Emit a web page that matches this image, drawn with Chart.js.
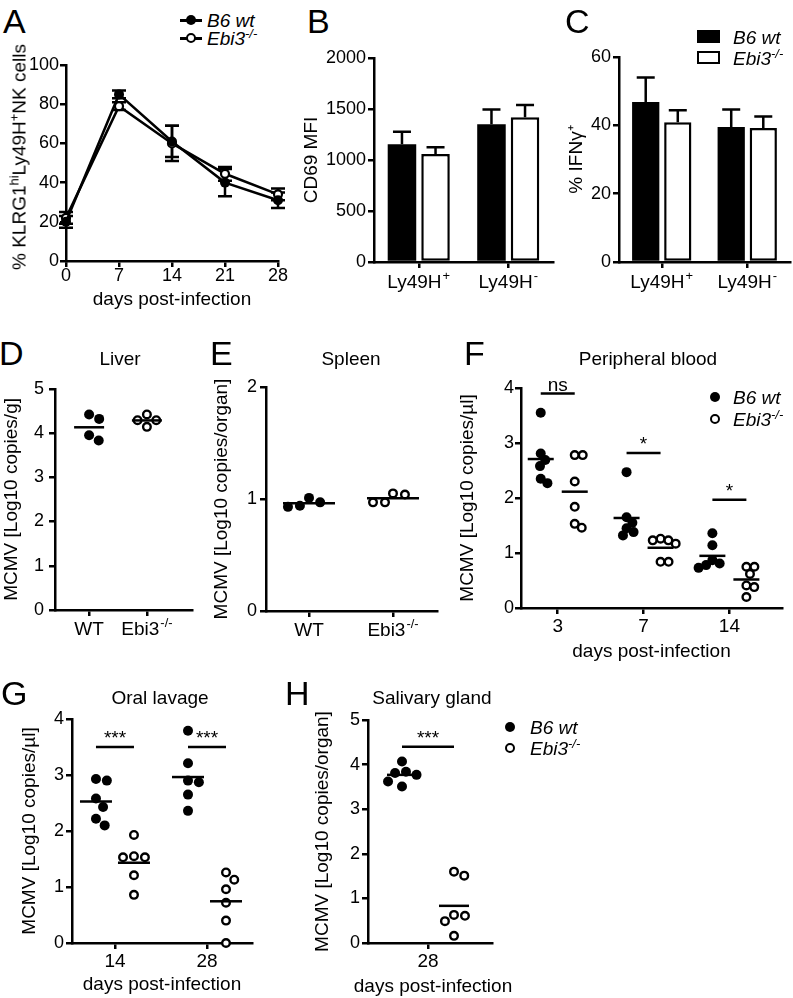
<!DOCTYPE html>
<html>
<head>
<meta charset="utf-8">
<script src="https://cdn.jsdelivr.net/npm/chart.js@4.4.1/dist/chart.umd.min.js"></script>
<style>
  body { margin: 0; background: #fff; }
  #fig { position: relative; width: 793px; height: 998px; overflow: hidden; font-family: 'Liberation Sans', Arial, sans-serif; color: #000; background: #fff; }
  #fig canvas { position: absolute; }
  .t { position: absolute; line-height: 1; white-space: nowrap; }
  .it { font-style: italic; }
  .t sup { font-size: 0.68em; vertical-align: 0; position: relative; top: -0.55em; }
  .mk { position: absolute; box-sizing: border-box; }
</style>
</head>
<body>
<div id="fig"></div>
<script>
// ---- A: KLRG1hi Ly49H+ NK cells over time (mean, sem)
const daysA = [0, 7, 14, 21, 28];
const klrgWt = [20, 85, 61, 40, 31];
const klrgWtErr = [3, 2, 8, 7, 4];
const klrgEbi = [22, 79, 60, 44.5, 34];
const klrgEbiErr = [3, 2, 9, 3.5, 3];

// ---- B / C: bars by subset
const subsets = ['Ly49H^+', 'Ly49H^-'];
const cd69Wt = [1155, 1350];
const cd69WtErr = [122, 145];
const cd69Ebi = [1060, 1420];
const cd69EbiErr = [65, 120];
const ifngWt = [46.8, 39.5];
const ifngWtErr = [7.2, 5.1];
const ifngEbi = [40.9, 39.2];
const ifngEbiErr = [3.5, 3.4];

// ---- D / E: organ loads
const genotypes = ['WT', 'Ebi3^-/-'];
const liverWt = [4.42, 4.32, 3.95, 3.83];
const liverEbi = [4.42, 4.29, 4.29, 4.14];
const spleenWt = [1.01, 0.97, 0.94, 0.93];
const spleenEbi = [1.05, 1.04, 0.97, 0.97];

// ---- F: peripheral blood
const bloodDays = ['3', '7', '14'];
const bloodWt = [[3.55, 2.81, 2.69, 2.58, 2.35, 2.27], [2.47, 1.65, 1.55, 1.45, 1.38, 1.32], [1.36, 1.14, 0.87, 0.81, 0.78, 0.73]];
const bloodEbi = [[2.78, 2.78, 2.30, 1.84, 1.53, 1.46], [1.26, 1.23, 1.23, 1.17, 0.84, 0.84], [0.75, 0.75, 0.62, 0.41, 0.38, 0.20]];
const bloodSig = ['ns', '*', '*'];
const bloodSigY = [3.9, 2.82, 1.97];

// ---- G: oral lavage
const lavageDays = ['14', '28'];
const lavageWt = [[2.93, 2.90, 2.58, 2.43, 2.22, 2.10], [3.79, 3.21, 2.90, 2.87, 2.65, 2.36]];
const lavageEbi = [[1.93, 1.55, 1.53, 1.53, 1.21, 0.86], [1.26, 1.13, 0.96, 0.72, 0.40, 0.00]];
const lavageSig = ['***', '***'];
const lavageSigY = [3.5, 3.5];

// ---- H: salivary gland
const glandDays = ['28'];
const glandWt = [[4.07, 3.84, 3.81, 3.77, 3.62, 3.51]];
const glandEbi = [[1.60, 1.51, 0.63, 0.61, 0.49, 0.16]];
const glandSig = ['***'];
const glandSigY = [4.4];

const FONT = "'Liberation Sans', Arial, sans-serif";
Chart.defaults.font.family = FONT;
Chart.defaults.color = '#000';
Chart.defaults.animation = false;
Chart.defaults.plugins.legend.display = false;
Chart.defaults.plugins.tooltip.enabled = false;

const fig = document.getElementById('fig');
const LH = 19 * 1.2;

function text(html, x, base, size, cls, center) {
  const d = document.createElement('div');
  d.className = 't ' + (cls || '');
  d.innerHTML = html;
  d.style.fontSize = size + 'px';
  d.style.left = x + 'px';
  d.style.top = (base - 0.8465 * size) + 'px';
  if (center) d.style.transform = 'translateX(-50%)';
  fig.appendChild(d);
}

function mark(x, y, w, h, css) {
  const d = document.createElement('div');
  d.className = 'mk';
  d.style.cssText += `left:${x}px;top:${y}px;width:${w}px;height:${h}px;` + css;
  fig.appendChild(d);
}

function drawRich(ctx, str, x, y, size, italic) {
  const parts = str.split('^');
  const f = s => (italic ? 'italic ' : '') + s + 'px ' + FONT;
  ctx.font = f(size);
  const wb = ctx.measureText(parts[0]).width;
  let ws = 0;
  if (parts[1]) { ctx.font = f(size * 0.68); ws = ctx.measureText(parts[1]).width + 1; }
  const x0 = x - (wb + ws) / 2;
  ctx.fillStyle = '#000';
  ctx.textAlign = 'left';
  ctx.textBaseline = 'middle';
  ctx.font = f(size);
  ctx.fillText(parts[0], x0, y);
  if (parts[1]) { ctx.font = f(size * 0.68); ctx.fillText(parts[1], x0 + wb + 1, y - size * 0.36); }
}

const errorBars = {
  id: 'errorBars',
  beforeDatasetsDraw(chart, args, opts) {
    const ctx = chart.ctx, ys = chart.scales.y;
    ctx.save();
    ctx.strokeStyle = '#000';
    ctx.lineWidth = 2.5;
    chart.data.datasets.forEach((ds, i) => {
      if (!ds.errors) return;
      chart.getDatasetMeta(i).data.forEach((el, j) => {
        const raw = ds.data[j];
        const v = typeof raw === 'object' ? raw.y : raw;
        const e = ds.errors[j];
        const y1 = ys.getPixelForValue(v + e);
        const y0 = ys.getPixelForValue(opts.upOnly ? v : v - e);
        ctx.beginPath();
        ctx.moveTo(el.x, y0); ctx.lineTo(el.x, y1);
        ctx.moveTo(el.x - opts.cap, y1); ctx.lineTo(el.x + opts.cap, y1);
        if (!opts.upOnly) { ctx.moveTo(el.x - opts.cap, y0); ctx.lineTo(el.x + opts.cap, y0); }
        ctx.stroke();
      });
    });
    ctx.restore();
  }
};

const sigBars = {
  id: 'sigBars',
  afterDatasetsDraw(chart, args, opts) {
    if (!opts.items) return;
    const { ctx, scales: { x, y } } = chart;
    ctx.save();
    ctx.strokeStyle = '#000';
    ctx.fillStyle = '#000';
    ctx.lineWidth = 2.5;
    ctx.font = '19px ' + FONT;
    ctx.textAlign = 'center';
    ctx.textBaseline = 'alphabetic';
    opts.items.forEach(it => {
      const x1 = x.getPixelForValue(it.x1), x2 = x.getPixelForValue(it.x2), yy = y.getPixelForValue(it.y);
      ctx.beginPath(); ctx.moveTo(x1, yy); ctx.lineTo(x2, yy); ctx.stroke();
      ctx.fillText(it.text, (x1 + x2) / 2, yy - 3);
    });
    ctx.restore();
  }
};

const catLabels = {
  id: 'catLabels',
  afterDraw(chart, args, opts) {
    if (!opts.labels) return;
    const xs = chart.scales.x;
    xs.ticks.forEach((t, i) => {
      drawRich(chart.ctx, opts.labels[i], xs.getPixelForTick(i), xs.top + 6 + opts.pad + LH / 2, 19);
    });
  }
};

function axisStyle(sc) {
  sc.border = { display: true, color: '#000', width: 2.5 };
  sc.grid = Object.assign({ display: true, drawOnChartArea: false, drawTicks: true, tickLength: 6, color: '#000', lineWidth: 2.5 }, sc.grid);
  return sc;
}

// p: plot box in page pixels (l, t, r, b) plus title positions
function panel(p, cfg) {
  let left, padX = 0;
  if (p.yTitle) { left = Math.floor(p.yTitleX - LH / 2); padX = p.yTitleX - LH / 2 - left; }
  else left = p.l - 45;
  let bottom, padY = 0;
  if (p.xTitle) { bottom = Math.ceil(p.xTitleY + LH / 2); padY = bottom - p.xTitleY - LH / 2; }
  else bottom = p.b + 40;
  const top = p.t - (p.pt || 14), right = p.r + 14;
  const cv = document.createElement('canvas');
  cv.width = right - left;
  cv.height = bottom - top;
  cv.style.left = left + 'px';
  cv.style.top = top + 'px';
  fig.appendChild(cv);
  const yw = p.l - left, xh = bottom - p.b;
  const o = cfg.options;
  o.responsive = false;
  o.devicePixelRatio = 1;
  o.layout = { padding: { top: p.t - top, right: 14, left: 0, bottom: 0 } };
  const sy = axisStyle(o.scales.y);
  sy.afterFit = s => { s.width = yw; };
  sy.ticks = Object.assign({ font: { size: 18 }, padding: p.yPad != null ? p.yPad : 2, color: '#000', callback: v => String(v) }, sy.ticks);
  sy.title = p.yTitle ? { display: true, text: p.yTitle, font: { size: 19 }, color: '#000', padding: { top: padX, bottom: 0 } } : { display: false };
  const sx = axisStyle(o.scales.x);
  sx.afterFit = s => { s.height = xh; };
  sx.title = p.xTitle ? { display: true, text: p.xTitle, font: { size: 19 }, color: '#000', padding: { top: 0, bottom: padY } } : { display: false };
  cfg.plugins = [errorBars, sigBars, catLabels];
  return new Chart(cv, cfg);
}

const FILLED = { pointRadius: 5, pointBackgroundColor: '#000', pointBorderColor: '#000', pointBorderWidth: 0 };
const OPEN = { pointRadius: 3.8, pointBackgroundColor: '#fff', pointBorderColor: '#000', pointBorderWidth: 2.4 };
const mean = a => a.reduce((s, v) => s + v, 0) / a.length;

// simple beeswarm: horizontal pixel offsets so dots don't overlap more than d allows
function swarm(vals, yppu, d) {
  const placed = [];
  return vals.map(v => {
    const y = v * yppu;
    const cands = [0];
    placed.forEach(q => {
      const dy = Math.abs(q.y - y);
      if (dy < d) { const dx = Math.sqrt(d * d - dy * dy); cands.push(q.x + dx, q.x - dx); }
    });
    cands.sort((a, b) => Math.abs(a) - Math.abs(b));
    const x = cands.find(c => placed.every(q => (q.x - c) ** 2 + (q.y - y) ** 2 >= d * d - 0.01));
    placed.push({ x, y });
    return x;
  });
}

function dotPanel(p, labels, groups, sigs) {
  const xppu = (p.r - p.l) / (p.xmax - p.xmin);
  const yppu = (p.b - p.t) / (p.ymax - p.ymin);
  const datasets = [];
  groups.forEach(g => {
    const cx = g.cat + g.side * p.spread / xppu;
    const jit = swarm(g.values, yppu, p.gap || 11);
    datasets.push(Object.assign({ data: g.values.map((v, k) => ({ x: cx + jit[k] / xppu, y: v })), clip: false }, g.filled ? FILLED : OPEN));
    const m = mean(g.values);
    datasets.push({ type: 'line', data: [{ x: cx - p.meanHalf / xppu, y: m }, { x: cx + p.meanHalf / xppu, y: m }],
      borderColor: '#000', borderWidth: 2.5, pointRadius: 0, order: -1, clip: false });
  });
  const items = (sigs || []).map(s => ({ x1: s.cat - p.spread / xppu, x2: s.cat + p.spread / xppu, y: s.y, text: s.text }));
  panel(p, {
    type: 'scatter',
    data: { datasets },
    options: {
      plugins: { sigBars: { items }, catLabels: { labels, pad: p.xPad } },
      scales: {
        x: { type: 'linear', min: p.xmin, max: p.xmax, ticks: { display: false },
          afterBuildTicks: s => { s.ticks = labels.map((c, i) => ({ value: i + 1 })); } },
        y: { min: p.ymin, max: p.ymax, ticks: { stepSize: 1 } }
      }
    }
  });
}

function pairGroups(wt, ebi) {
  const out = [];
  wt.forEach((vals, i) => {
    out.push({ cat: i + 1, side: -1, values: vals, filled: true });
    out.push({ cat: i + 1, side: 1, values: ebi[i], filled: false });
  });
  return out;
}

// ---------- A ----------
panel({ l: 66, t: 65, r: 278, b: 261, xTitle: 'days post-infection', xTitleY: 300, yPad: 1 }, {
  type: 'line',
  data: { datasets: [
    Object.assign({ data: daysA.map((d, i) => ({ x: d, y: klrgWt[i] })), errors: klrgWtErr, borderColor: '#000', borderWidth: 2.5, clip: false }, FILLED),
    Object.assign({ data: daysA.map((d, i) => ({ x: d, y: klrgEbi[i] })), errors: klrgEbiErr, borderColor: '#000', borderWidth: 2.5, clip: false }, OPEN, { pointRadius: 4, pointBorderWidth: 2.2 })
  ] },
  options: {
    plugins: { errorBars: { cap: 7, upOnly: false } },
    scales: {
      x: { type: 'linear', min: 0, max: 28, ticks: { stepSize: 7, font: { size: 18 }, padding: -2, color: '#000' } },
      y: { min: 0, max: 100, ticks: { stepSize: 20 } }
    }
  }
});

// ---------- B / C ----------
function barPanel(p, wt, wtErr, ebi, ebiErr) {
  panel(p, {
    type: 'bar',
    data: { labels: subsets, datasets: [
      { data: wt, errors: wtErr, backgroundColor: '#000', borderWidth: 0 },
      { data: ebi, errors: ebiErr, backgroundColor: '#fff', borderColor: '#000', borderWidth: 2.5, borderSkipped: false }
    ] },
    options: {
      datasets: { bar: { categoryPercentage: 0.75, barPercentage: 0.85 } },
      plugins: { errorBars: { cap: 9, upOnly: true }, catLabels: { labels: subsets, pad: 3.5 } },
      scales: {
        x: { grid: { offset: false }, ticks: { display: false } },
        y: { min: p.ymin, max: p.ymax, ticks: { stepSize: p.step } }
      }
    }
  });
}
barPanel({ l: 374, t: 58, r: 553, b: 262, yTitle: 'CD69 MFI', yTitleX: 312, ymin: 0, ymax: 2000, step: 500 }, cd69Wt, cd69WtErr, cd69Ebi, cd69EbiErr);
barPanel({ l: 619, t: 57, r: 790, b: 262, yTitle: '% IFNγ⁺', yTitleX: 577, ymin: 0, ymax: 60, step: 20 }, ifngWt, ifngWtErr, ifngEbi, ifngEbiErr);

// ---------- D / E ----------
dotPanel({ l: 55, t: 387, r: 192, b: 610, xmin: 0.41, xmax: 2.78, ymin: 0, ymax: 5, spread: 0, meanHalf: 15,
  yTitle: 'MCMV [Log10 copies/g]', yTitleX: 12, yPad: 5, xPad: 2.5 }, genotypes,
  [{ cat: 1, side: 0, values: liverWt, filled: true }, { cat: 2, side: 0, values: liverEbi, filled: false }]);
dotPanel({ l: 266, t: 387, r: 437, b: 611, xmin: 0.488, xmax: 2.524, ymin: 0, ymax: 2, spread: 0, meanHalf: 26, gap: 12,
  yTitle: 'MCMV [Log10 copies/organ]', yTitleX: 222, yPad: 3, xPad: 2.5 }, genotypes,
  [{ cat: 1, side: 0, values: spleenWt, filled: true }, { cat: 2, side: 0, values: spleenEbi, filled: false }]);

// ---------- F ----------
dotPanel({ l: 521, t: 388, r: 782, b: 608, pt: 28, xmin: 0.572, xmax: 3.613, ymin: 0, ymax: 4, spread: 17, meanHalf: 13, gap: 8,
  yTitle: 'MCMV [Log10 copies/µl]', yTitleX: 468, xTitle: 'days post-infection', xTitleY: 652, yPad: 1, xPad: 1.5 },
  bloodDays, pairGroups(bloodWt, bloodEbi), bloodSig.map((s, i) => ({ cat: i + 1, y: bloodSigY[i], text: s })));

// ---------- G ----------
dotPanel({ l: 72, t: 719, r: 252, b: 943, xmin: 0.533, xmax: 2.489, ymin: 0, ymax: 4, spread: 19, meanHalf: 16,
  yTitle: 'MCMV [Log10 copies/µl]', yTitleX: 30, xTitle: 'days post-infection', xTitleY: 985, yPad: 2, xPad: 1 },
  lavageDays, pairGroups(lavageWt, lavageEbi), lavageSig.map((s, i) => ({ cat: i + 1, y: lavageSigY[i], text: s })));

// ---------- H (x title wider than the axis, so it is placed as page text) ----------
dotPanel({ l: 368, t: 720, r: 492, b: 943, xmin: 0.4, xmax: 1.64, ymin: 0, ymax: 5, spread: 26, meanHalf: 15,
  yTitle: 'MCMV [Log10 copies/organ]', yTitleX: 323, yPad: 2, xPad: 1 },
  glandDays, pairGroups(glandWt, glandEbi), glandSig.map((s, i) => ({ cat: i + 1, y: glandSigY[i], text: s })));
text('days post-infection', 433, 992, 19, '', true);

// ---------- panel letters, titles, legends ----------
[['A', 3, 33], ['B', 307, 33], ['C', 565, 33], ['D', -1, 365], ['E', 210, 365], ['F', 464, 365], ['G', 1, 705], ['H', 285, 705]]
  .forEach(([s, x, y]) => text(s, x, y, 34));

text('Liver', 120, 365, 19, '', true);
text('Spleen', 351, 365, 19, '', true);
text('Peripheral blood', 648, 365, 19, '', true);
text('Oral lavage', 160, 704, 19, '', true);
text('Salivary gland', 432, 704, 19, '', true);

// A y-axis title (with superscripts)
const yA = document.createElement('div');
yA.className = 't';
yA.innerHTML = '% KLRG1<sup>hi</sup>Ly49H<sup>+</sup>NK cells';
yA.style.cssText += 'font-size:19px;left:19px;top:157px;transform:translate(-50%,-50%) rotate(-90deg);';
fig.appendChild(yA);

// A legend
mark(180, 19, 22, 2.5, 'background:#000;');
mark(186, 15, 10, 10, 'background:#000;border-radius:50%;');
mark(180, 37, 22, 2.5, 'background:#000;');
mark(186, 33, 10, 10, 'background:#fff;border:2px solid #000;border-radius:50%;');
text('B6 wt', 207, 27, 19, 'it');
text('Ebi3<sup>-/-</sup>', 207, 45, 19, 'it');

// C legend
mark(697, 30, 23, 13, 'background:#000;');
mark(697, 51, 23, 13, 'background:#fff;border:2.5px solid #000;');
text('B6 wt', 733, 44, 19, 'it');
text('Ebi3<sup>-/-</sup>', 733, 65, 19, 'it');

// F legend
mark(710, 392, 10, 10, 'background:#000;border-radius:50%;');
mark(710, 414, 10, 10, 'background:#fff;border:2.4px solid #000;border-radius:50%;');
text('B6 wt', 733, 404, 19, 'it');
text('Ebi3<sup>-/-</sup>', 733, 426, 19, 'it');

// H legend
mark(505, 722, 10, 10, 'background:#000;border-radius:50%;');
mark(505, 743, 10, 10, 'background:#fff;border:2.4px solid #000;border-radius:50%;');
text('B6 wt', 530, 734, 19, 'it');
text('Ebi3<sup>-/-</sup>', 530, 755, 19, 'it');
</script>
</body>
</html>
